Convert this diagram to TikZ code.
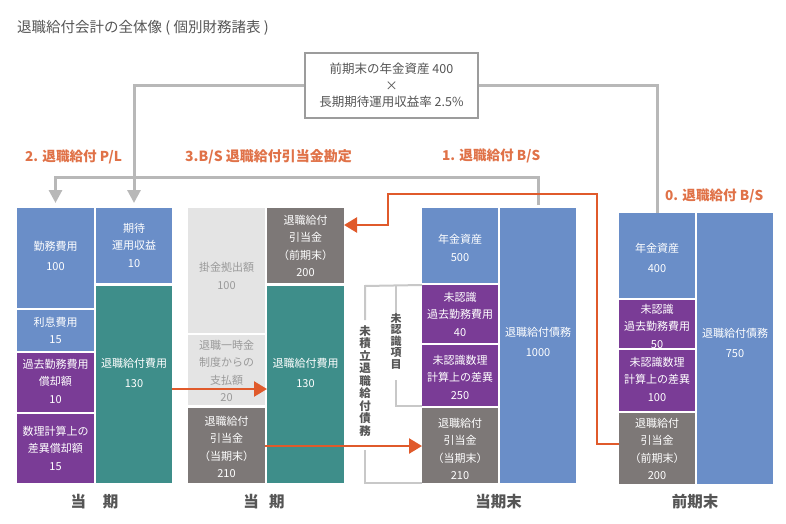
\documentclass[tikz,border=0pt]{standalone}
\usepackage{fontspec}
\newfontfamily\cjk{Noto Sans CJK JP}
\usetikzlibrary{arrows.meta}
\definecolor{cblue}{HTML}{6A8EC8}
\definecolor{cpurple}{HTML}{7A3C96}
\definecolor{cteal}{HTML}{3E8E8A}
\definecolor{cdark}{HTML}{7D7877}
\definecolor{clight}{HTML}{E4E4E4}
\definecolor{corange}{HTML}{E05A2B}
\definecolor{clabel}{HTML}{E07248}
\definecolor{cline}{HTML}{B8B8B8}
\definecolor{cbrack}{HTML}{C8C8C8}
\definecolor{ctext}{HTML}{555555}
\definecolor{cgraytext}{HTML}{9A9A9A}
\tikzset{
  bx/.style={draw=none,inner sep=0pt,outer sep=0pt},
  tx/.style={align=center,inner sep=0pt,font=\cjk\fontsize{11}{17.5}\selectfont},
  garrow/.style={draw=cline,line width=3pt,-{Triangle[length=13pt,width=13pt]}},
  gline/.style={draw=cline,line width=3pt},
  oarrow/.style={draw=corange,line width=2.5pt,-{Triangle[length=13pt,width=15pt]}},
  brk/.style={draw=cbrack,line width=2pt},
  lab/.style={inner sep=0pt,text=clabel,font=\cjk\bfseries\fontsize{13.6}{15}\selectfont},
  bot/.style={inner sep=0pt,text=ctext,font=\cjk\bfseries\fontsize{15.5}{18}\selectfont},
  vtx/.style={align=center,inner sep=0pt,text=ctext,font=\cjk\bfseries\fontsize{11.5}{12.5}\selectfont},
}
\newcommand\mybox[9]{%
  \node[bx,fill=#6,minimum width={#4-#2},minimum height={#5-#3},anchor=north west] (#1) at (#2,#3) {};
  \node[tx,text=#7] (#1t) at ({(#2+#4)/2},#8) {#9};}
\begin{document}
\begin{tikzpicture}[x=1pt,y=-1pt]
\useasboundingbox (0,0) rectangle (786,524);
% title
\node[anchor=west,inner sep=0pt,text=ctext,font=\cjk\fontsize{14.5}{17}\selectfont] (title) at (17,28) {退職給付会計の全体像 ( 個別財務諸表 )};
% top box
\node[draw=cline!85!black,line width=1.5pt,fill=white,minimum width=173,minimum height=65,inner sep=0pt,align=center,text=ctext,font=\cjk\fontsize{12.5}{16.5}\selectfont] (top) at (391.5,85.5) {前期末の年金資産 400\\×\\長期期待運用収益率 2.5\%};
% group 1
\mybox{g1a}{17}{208}{94}{308}{cblue}{white}{256}{勤務費用\\[3pt]100}
\mybox{g1b}{17}{310}{94}{351}{cblue}{white}{330.5}{利息費用\\15}
\mybox{g1c}{17}{353}{94}{412}{cpurple}{white}{381}{過去勤務費用\\償却額\\10}
\mybox{g1d}{17}{414}{94}{483}{cpurple}{white}{448}{数理計算上の\\差異償却額\\15}
\mybox{g1e}{96}{208}{172}{283}{cblue}{white}{245}{期待\\運用収益\\10}
\mybox{g1f}{96}{286}{172}{483}{cteal}{white}{373}{退職給付費用\\[3pt]130}
% group 3
\mybox{g3a}{188}{208}{265}{333}{clight}{cgraytext}{276}{掛金拠出額\\[1pt]100}
\mybox{g3b}{188}{335}{265}{405}{clight}{cgraytext}{371}{退職一時金\\制度からの\\支払額\\20}
\mybox{g3c}{188}{408}{265}{483}{cdark}{white}{447}{退職給付\\引当金\\（当期末）\\210}
\mybox{g3d}{267}{208}{344}{283}{cdark}{white}{246}{退職給付\\引当金\\（前期末）\\200}
\mybox{g3e}{267}{286}{344}{483}{cteal}{white}{373}{退職給付費用\\[3pt]130}
% group 4 (当期末)
\mybox{g4a}{422}{208}{498}{283}{cblue}{white}{248}{年金資産\\[1pt]500}
\mybox{g4b}{422}{285}{498}{343}{cpurple}{white}{314}{未認識\\過去勤務費用\\40}
\mybox{g4c}{422}{345}{498}{406}{cpurple}{white}{377}{未認識数理\\計算上の差異\\250}
\mybox{g4d}{422}{408}{498}{483}{cdark}{white}{449}{退職給付\\引当金\\（当期末）\\210}
\mybox{g4e}{500}{208}{576}{483}{cblue}{white}{342}{退職給付債務\\[3pt]1000}
% group 5 (前期末)
\mybox{g5a}{619}{213}{695}{298}{cblue}{white}{258}{年金資産\\[3pt]400}
\mybox{g5b}{619}{300}{695}{348}{cpurple}{white}{326}{未認識\\過去勤務費用\\50}
\mybox{g5c}{619}{350}{695}{411}{cpurple}{white}{379}{未認識数理\\計算上の差異\\100}
\mybox{g5d}{619}{413}{695}{484}{cdark}{white}{449}{退職給付\\引当金\\（前期末）\\200}
\mybox{g5e}{697}{213}{773}{484}{cblue}{white}{343}{退職給付債務\\[3pt]750}
% section labels
\node[lab,anchor=west] (l2) at (25,157) {2. 退職給付 P/L};
\node[lab,anchor=west,font=\cjk\bfseries\fontsize{14}{15}\selectfont] (l3) at (185,157) {3.B/S 退職給付引当金勘定};
\node[lab,anchor=west] (l1) at (442,156) {1. 退職給付 B/S};
\node[lab,anchor=west] (l0) at (665,196) {0. 退職給付 B/S};
% bottom labels
\node[bot] (b1) at (94.5,502) {当\hspace{17pt}期};
\node[bot] (b3) at (264,502) {当\hspace{10.5pt}期};
\node[bot] (b4) at (498.5,502) {当期末};
\node[bot] (b5) at (695,502) {前期末};
% gray connectors
\coordinate (gy) at (0,177);
\draw[gline,shorten <=3pt] (g4e.north) |- (gy -| g4e.north) -- (gy -| g1e.north);
\draw[garrow,shorten >=5pt,line join=miter] (gy -| g1e.north) -| (g1a.north);
\draw[garrow,shorten >=5pt] (top.west) -| (g1e.north);
\draw[gline] (top.east) -| (g5a.north);
% orange arrows
\coordinate (a1) at (0,389);
\coordinate (a2) at (0,446);
\coordinate (a3) at (0,444);
\coordinate (oc1) at (597,194);
\coordinate (oc2) at (388,225);
\draw[oarrow] (g1f.east |- a1) -- (g3e.west |- a1);
\draw[oarrow] (g3c.east |- a2) -- (g4d.west |- a2);
\draw[oarrow] (g5d.west |- a3) -| (oc1) -| (oc2) -- (g3d.east |- oc2);
% brackets
\coordinate (bo) at (365,286);
\coordinate (bi) at (396,286);
\draw[brk] (g4b.north west) -- (bo) -- (365,320);
\draw[brk] (365,450) -- (365,483) -- (g4d.south west);
\draw[brk] (bi) -- (396,312);
\draw[brk] (396,380) -- (396,406) -- (g4c.south west);
\node[vtx] (vt1) at (365,381) {未\\積\\立\\退\\職\\給\\付\\債\\務};
\node[vtx,font=\cjk\bfseries\fontsize{11}{11.5}\selectfont] (vt2) at (396,341) {未\\認\\識\\項\\目};
\end{tikzpicture}
\end{document}
